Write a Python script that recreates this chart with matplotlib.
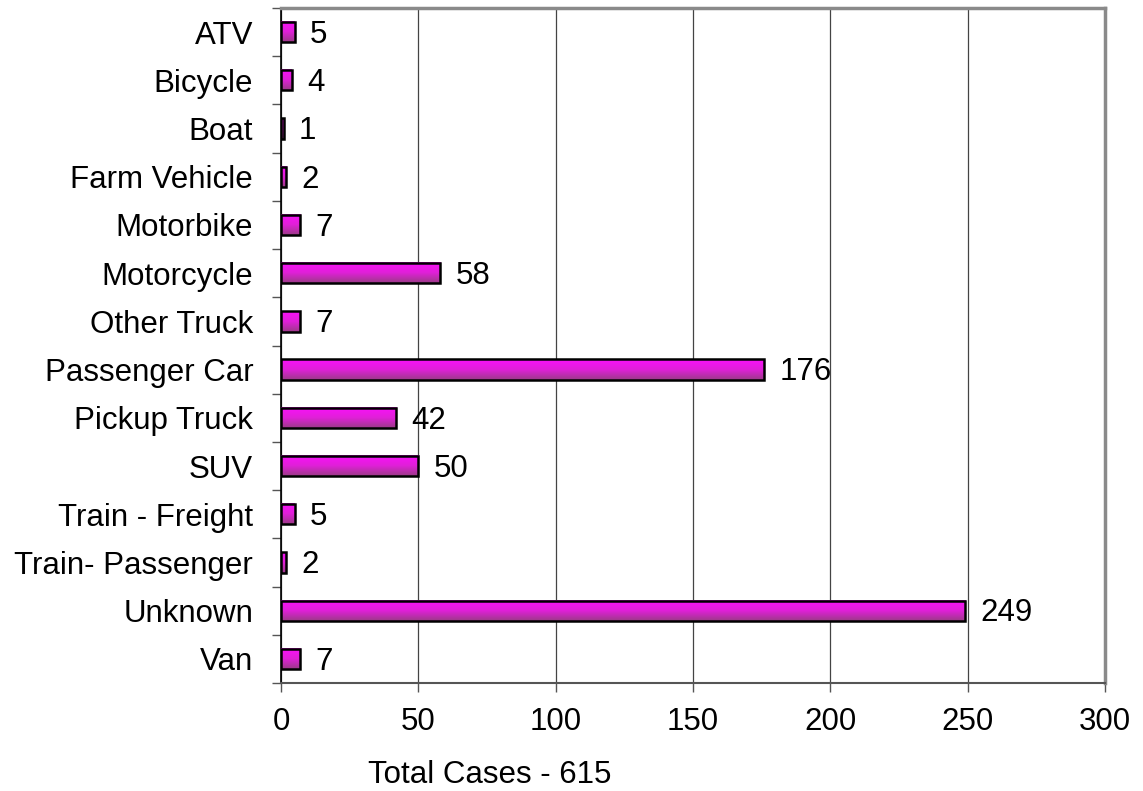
import numpy as np
import matplotlib
matplotlib.use("Agg")
import matplotlib.pyplot as plt
from matplotlib.colors import LinearSegmentedColormap

# donnees
categories = ['ATV', 'Bicycle', 'Boat', 'Farm Vehicle', 'Motorbike', 'Motorcycle',
              'Other Truck', 'Passenger Car', 'Pickup Truck', 'SUV', 'Train - Freight',
              'Train- Passenger', 'Unknown', 'Van']
cases = [5, 4, 1, 2, 7, 58, 7, 176, 42, 50, 5, 2, 249, 7]
x_ticks = [0, 50, 100, 150, 200, 250, 300]
x_label = 'Total Cases - 615'

plt.rcParams['font.family'] = ['Liberation Sans', 'DejaVu Sans']
FS = 22.5

fig = plt.figure(figsize=(11.43, 7.91), dpi=100)
ax = fig.add_axes([0.2458, 0.1365, 0.7210, 0.8534])

n = len(categories)
ypos = np.arange(n)
bar_h = 0.42

# degrade magenta (haut clair -> bas plus sombre)
cmap = LinearSegmentedColormap.from_list('mag', ['#fa10fa', '#e020d8', '#9c3a88'])
grad = np.linspace(0, 1, 64).reshape(-1, 1)

for y, v in zip(ypos, cases):
    ax.imshow(grad, cmap=cmap, aspect='auto', interpolation='bilinear',
              extent=[0, v, y + bar_h / 2, y - bar_h / 2], zorder=3)
ax.barh(ypos, cases, height=bar_h, facecolor='none', edgecolor='black',
        linewidth=1.8, zorder=4)

for y, v in zip(ypos, cases):
    ax.annotate(str(v), xy=(v, y), xytext=(11, -2), textcoords='offset points',
                ha='left', va='center', fontsize=FS, zorder=5)

ax.set_xlim(0, 300)
ax.set_ylim(n - 0.5, -0.5)
ax.set_xticks(x_ticks)
ax.set_xticklabels([str(t) for t in x_ticks], fontsize=FS)
ax.tick_params(axis='x', length=6.5, width=1, color='#555555', pad=11)
ax.xaxis.grid(True, color='#444444', linewidth=0.9, zorder=0)
ax.set_axisbelow(True)

# etiquettes au centre, graduations entre les categories
ax.set_yticks(np.arange(-0.5, n, 1.0))
ax.set_yticklabels([])
ax.tick_params(axis='y', length=6.5, width=1, color='#555555')
ax.set_yticks(ypos, minor=True)
ax.set_yticklabels(categories, minor=True, fontsize=FS)
ax.tick_params(axis='y', which='minor', length=0, pad=20)

ax.spines['left'].set_color('black')
ax.spines['left'].set_linewidth(1.2)
ax.spines['bottom'].set_color('#555555')
ax.spines['bottom'].set_linewidth(1.5)
for s in ['top', 'right']:
    ax.spines[s].set_color('#8a8a8a')
    ax.spines[s].set_linewidth(2.5)

fig.text(490 / 1143, 1 - 783 / 791, x_label, ha='center', va='baseline', fontsize=FS)

fig.savefig('out.png', dpi=100)
